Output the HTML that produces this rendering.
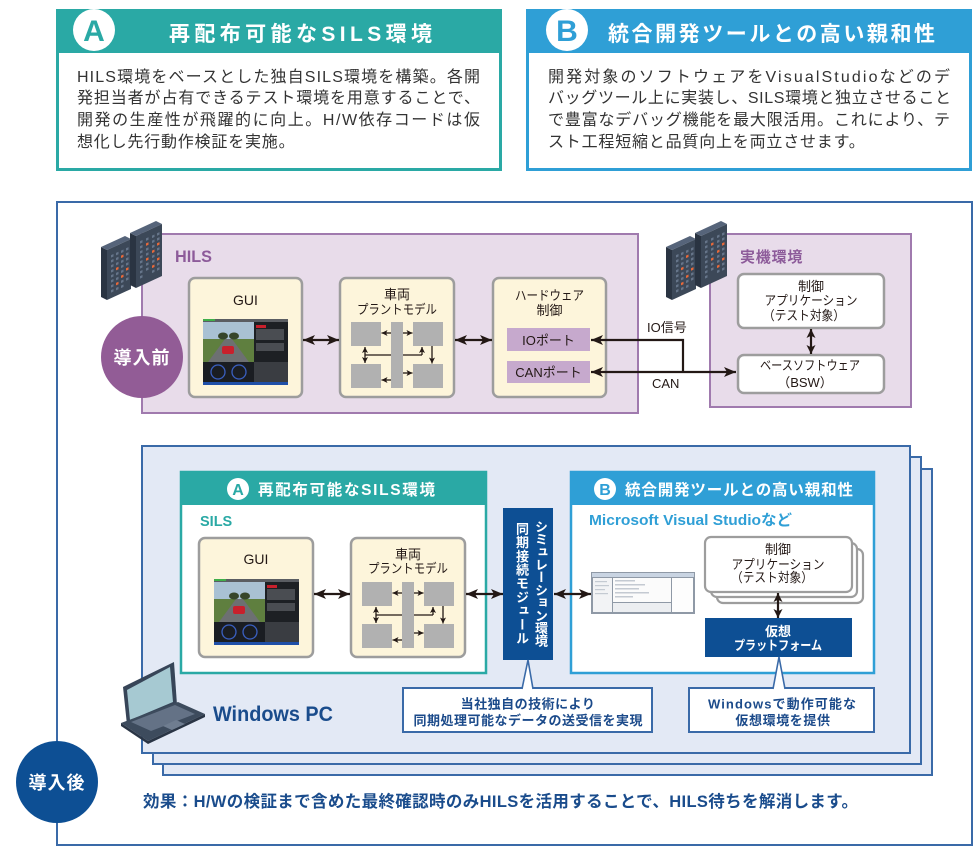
<!DOCTYPE html>
<html lang="ja"><head><meta charset="utf-8"><title>SILS</title>
<style>
html,body{margin:0;padding:0;background:#fff}
body{width:980px;height:853px;position:relative;overflow:hidden}
svg{position:absolute;left:0;top:0;display:block}
svg text{font-family:"Liberation Sans","Noto Sans CJK JP",sans-serif}
.vt{position:absolute;writing-mode:vertical-rl;color:#fff;font-weight:bold;font-size:13px;line-height:13px;width:13px;font-family:"Liberation Sans","Noto Sans CJK JP",sans-serif;white-space:nowrap}
</style></head><body>
<svg width="980" height="853" viewBox="0 0 980 853">
<defs>
<marker id="ah" markerUnits="userSpaceOnUse" markerWidth="12" markerHeight="10" viewBox="0 0 12 10" refX="12" refY="5" orient="auto-start-reverse"><path d="M0,0 L12,5 L0,10 L3,5 z" fill="#231815"/></marker>
<marker id="am" markerUnits="userSpaceOnUse" markerWidth="9" markerHeight="9" viewBox="0 0 9 9" refX="9" refY="4.5" orient="auto-start-reverse"><path d="M0,0 L9,4.5 L0,9 L2.2,4.5 z" fill="#231815"/></marker>
<marker id="as" markerUnits="userSpaceOnUse" markerWidth="6" markerHeight="6" viewBox="0 0 6 6" refX="6" refY="3" orient="auto-start-reverse"><path d="M0,0 L6,3 L0,6 L1.5,3 z" fill="#231815"/></marker>

<g id="gui">
<rect width="85" height="66" fill="#2a2d31"/>
<rect width="85" height="3" fill="#5a5d62"/>
<rect width="12" height="2" fill="#3fae49"/>
<rect x="0" y="3" width="51" height="40" fill="#5f7f3f"/>
<rect x="0" y="3" width="51" height="17" fill="#a9c1d3"/>
<polygon points="22,20 29,20 46,43 5,43" fill="#6d7072"/>
<ellipse cx="20" cy="17" rx="5" ry="3.5" fill="#36452a"/>
<ellipse cx="31" cy="17" rx="5" ry="3.5" fill="#36452a"/>
<rect x="19" y="27" width="12" height="8" rx="2" fill="#c8202c"/>
<rect x="51" y="3" width="34" height="40" fill="#1d2024"/>
<rect x="53" y="6" width="10" height="3" fill="#c8202c"/>
<rect x="53" y="10" width="28" height="11" fill="#4a4d52"/>
<rect x="53" y="24" width="28" height="8" fill="#4a4d52"/>
<rect x="0" y="43" width="51" height="20" fill="#1a1d22"/>
<circle cx="15" cy="53" r="7" fill="none" stroke="#3a5fc0" stroke-width="1.3"/>
<circle cx="36" cy="53" r="7" fill="none" stroke="#3a5fc0" stroke-width="1.3"/>
<rect x="51" y="43" width="34" height="20" fill="#3a3d42"/>
<rect x="0" y="63" width="85" height="3" fill="#1f4fa8"/>
</g>

<g id="plant">
<line x1="14" y1="33" x2="71" y2="33" stroke="#231815" stroke-width="1.3"/>
<path d="M71,33 V25" fill="none" stroke="#231815" stroke-width="1.3" marker-end="url(#as)"/>
<rect x="0" y="0" width="30" height="24" fill="#b1b1b1"/>
<rect x="62" y="0" width="30" height="24" fill="#b1b1b1"/>
<rect x="0" y="42" width="30" height="24" fill="#b1b1b1"/>
<rect x="62" y="42" width="30" height="24" fill="#b1b1b1"/>
<rect x="40" y="0" width="12" height="66" fill="#b1b1b1"/>
<g stroke="#231815" stroke-width="1.3" fill="none">
<line x1="40" y1="11" x2="30.5" y2="11" marker-end="url(#as)"/>
<line x1="52" y1="11" x2="61.5" y2="11" marker-end="url(#as)"/>
<line x1="14" y1="25" x2="14" y2="41" marker-start="url(#as)" marker-end="url(#as)"/>
<line x1="81" y1="24" x2="81" y2="41.5" marker-end="url(#as)"/>
<line x1="40" y1="58" x2="30.5" y2="58" marker-end="url(#as)"/>
<line x1="52" y1="51" x2="61.5" y2="51" marker-end="url(#as)"/>
</g>
</g>

<g id="srv">
<polygon points="101,247 107,250 107,300 101,297" fill="#2a3442"/>
<polygon points="101,247 125,236 131,239 107,250" fill="#56647a"/>
<g transform="matrix(1,-0.458,0,1,107,250)">
<rect width="24" height="50" fill="#3c4858"/>
<g fill="#66758a">
<rect x="4" y="7" width="2.5" height="2.5"/><rect x="9" y="7" width="2.5" height="2.5"/><rect x="14" y="7" width="2.5" height="2.5"/><rect x="19" y="7" width="2.5" height="2.5"/>
<rect x="4" y="12" width="2.5" height="2.5"/><rect x="9" y="12" width="2.5" height="2.5"/><rect x="19" y="12" width="2.5" height="2.5"/>
<rect x="4" y="17" width="2.5" height="2.5"/><rect x="9" y="17" width="2.5" height="2.5"/><rect x="14" y="17" width="2.5" height="2.5"/><rect x="19" y="17" width="2.5" height="2.5"/>
<rect x="4" y="22" width="2.5" height="2.5"/><rect x="14" y="22" width="2.5" height="2.5"/><rect x="19" y="22" width="2.5" height="2.5"/>
<rect x="4" y="27" width="2.5" height="2.5"/><rect x="9" y="27" width="2.5" height="2.5"/><rect x="14" y="27" width="2.5" height="2.5"/>
<rect x="4" y="32" width="2.5" height="2.5"/><rect x="9" y="32" width="2.5" height="2.5"/><rect x="19" y="32" width="2.5" height="2.5"/>
<rect x="4" y="37" width="2.5" height="2.5"/><rect x="14" y="37" width="2.5" height="2.5"/><rect x="19" y="37" width="2.5" height="2.5"/>
<rect x="4" y="42" width="2.5" height="2.5"/><rect x="9" y="42" width="2.5" height="2.5"/><rect x="14" y="42" width="2.5" height="2.5"/>
</g>
<g fill="#e8693a">
<rect x="9" y="22" width="2.5" height="2.5"/><rect x="14" y="12" width="2.5" height="2.5"/><rect x="19" y="27" width="2.5" height="2.5"/><rect x="9" y="37" width="2.5" height="2.5"/><rect x="14" y="32" width="2.5" height="2.5"/>
</g>
</g>
<polygon points="130,233 136,236 136,288 130,285" fill="#2a3442"/>
<polygon points="130,233 156,221 162,224 136,236" fill="#56647a"/>
<g transform="matrix(1,-0.462,0,1,136,236)">
<rect width="26" height="52" fill="#3c4858"/>
<g fill="#66758a">
<rect x="4" y="7" width="2.5" height="2.5"/><rect x="10" y="7" width="2.5" height="2.5"/><rect x="16" y="7" width="2.5" height="2.5"/><rect x="21" y="7" width="2.5" height="2.5"/>
<rect x="4" y="12" width="2.5" height="2.5"/><rect x="16" y="12" width="2.5" height="2.5"/><rect x="21" y="12" width="2.5" height="2.5"/>
<rect x="4" y="17" width="2.5" height="2.5"/><rect x="10" y="17" width="2.5" height="2.5"/><rect x="16" y="17" width="2.5" height="2.5"/>
<rect x="4" y="22" width="2.5" height="2.5"/><rect x="10" y="22" width="2.5" height="2.5"/><rect x="21" y="22" width="2.5" height="2.5"/>
<rect x="4" y="27" width="2.5" height="2.5"/><rect x="16" y="27" width="2.5" height="2.5"/><rect x="21" y="27" width="2.5" height="2.5"/>
<rect x="4" y="32" width="2.5" height="2.5"/><rect x="10" y="32" width="2.5" height="2.5"/><rect x="16" y="32" width="2.5" height="2.5"/>
<rect x="4" y="37" width="2.5" height="2.5"/><rect x="10" y="37" width="2.5" height="2.5"/><rect x="21" y="37" width="2.5" height="2.5"/>
<rect x="4" y="42" width="2.5" height="2.5"/><rect x="16" y="42" width="2.5" height="2.5"/><rect x="21" y="42" width="2.5" height="2.5"/>
</g>
<g fill="#e8693a">
<rect x="10" y="12" width="2.5" height="2.5"/><rect x="21" y="17" width="2.5" height="2.5"/><rect x="16" y="22" width="2.5" height="2.5"/><rect x="10" y="27" width="2.5" height="2.5"/><rect x="21" y="32" width="2.5" height="2.5"/><rect x="16" y="37" width="2.5" height="2.5"/>
</g>
</g>
</g>
</defs>

<!-- ===== Top box A ===== -->
<rect x="56" y="9" width="446" height="162" fill="#2aa9a5"/>
<rect x="59" y="53" width="440" height="115" fill="#fff"/>
<circle cx="94" cy="30" r="21" fill="#fff"/>
<text x="94" y="41" text-anchor="middle" font-size="30" font-weight="bold" fill="#2aa9a5">A</text>
<text x="169" y="41" font-size="21" font-weight="bold" fill="#fff" textLength="263" lengthAdjust="spacing">再配布可能なSILS環境</text>
<g font-size="16" fill="#333">
<text x="77" y="82" textLength="403" lengthAdjust="spacing">HILS環境をベースとした独自SILS環境を構築。各開</text>
<text x="77" y="103" textLength="403" lengthAdjust="spacing">発担当者が占有できるテスト環境を用意することで、</text>
<text x="77" y="125" textLength="403" lengthAdjust="spacing">開発の生産性が飛躍的に向上。H/W依存コードは仮</text>
<text x="77" y="147" letter-spacing="0.8">想化し先行動作検証を実施。</text>
</g>

<!-- ===== Top box B ===== -->
<rect x="526" y="9" width="446" height="162" fill="#2f9fd6"/>
<rect x="529" y="53" width="440" height="115" fill="#fff"/>
<circle cx="567" cy="30" r="21" fill="#fff"/>
<text x="567" y="41" text-anchor="middle" font-size="30" font-weight="bold" fill="#2f9fd6">B</text>
<text x="608" y="41" font-size="21" font-weight="bold" fill="#fff" textLength="327" lengthAdjust="spacing">統合開発ツールとの高い親和性</text>
<g font-size="16" fill="#333">
<text x="548" y="82" textLength="402" lengthAdjust="spacing">開発対象のソフトウェアをVisualStudioなどのデ</text>
<text x="548" y="103" textLength="403" lengthAdjust="spacing">バッグツール上に実装し、SILS環境と独立させること</text>
<text x="548" y="125" textLength="402" lengthAdjust="spacing">で豊富なデバッグ機能を最大限活用。これにより、テ</text>
<text x="548" y="147" letter-spacing="0.8">スト工程短縮と品質向上を両立させます。</text>
</g>

<!-- ===== Main frame ===== -->
<rect x="57" y="202" width="915" height="643" fill="none" stroke="#3a6aa8" stroke-width="2"/>

<!-- HILS -->
<rect x="142" y="234" width="496" height="179" fill="#e8dcea" stroke="#a07aae" stroke-width="2"/>
<text x="175" y="262" font-size="17" font-weight="bold" fill="#8d5b9a" textLength="37" lengthAdjust="spacingAndGlyphs">HILS</text>
<rect x="710" y="234" width="201" height="173" fill="#e8dcea" stroke="#a07aae" stroke-width="2"/>
<text x="740" y="262" font-size="15" font-weight="bold" fill="#8d5b9a" letter-spacing="0.8">実機環境</text>

<use href="#srv"/>
<use href="#srv" transform="translate(565,0)"/>

<circle cx="142" cy="357" r="41" fill="#925c96"/>
<text x="142" y="364" text-anchor="middle" font-size="18" font-weight="bold" fill="#fff" letter-spacing="1">導入前</text>

<!-- Upper inner boxes -->
<g fill="#fdf5db" stroke="#9d9d9d" stroke-width="2.5">
<rect x="189" y="278" width="113" height="119" rx="6"/>
<rect x="340" y="278" width="114" height="119" rx="6"/>
<rect x="493" y="278" width="113" height="119" rx="6"/>
</g>
<g font-size="13" fill="#231815" text-anchor="middle">
<text x="245.5" y="305" font-size="14">GUI</text>
<text x="397" y="299">車両</text>
<text x="397" y="314" textLength="80" lengthAdjust="spacingAndGlyphs">プラントモデル</text>
<text x="549.5" y="300" textLength="69" lengthAdjust="spacingAndGlyphs">ハードウェア</text>
<text x="549.5" y="315">制御</text>
</g>
<use href="#gui" transform="translate(203,319)"/>
<use href="#plant" transform="translate(351,322)"/>
<rect x="507" y="328" width="83" height="23" fill="#c6a9cd"/>
<rect x="507" y="361" width="83" height="22" fill="#c6a9cd"/>
<g font-size="13" fill="#231815" text-anchor="middle">
<text x="548.5" y="345">IOポート</text>
<text x="548.5" y="377">CANポート</text>
</g>
<text x="647" y="332" font-size="13" fill="#231815">IO信号</text>
<text x="652" y="388" font-size="13" fill="#231815">CAN</text>

<g fill="#fff" stroke="#9d9d9d" stroke-width="2.5">
<rect x="738" y="274" width="146" height="54" rx="6"/>
<rect x="738" y="355" width="146" height="38" rx="6"/>
</g>
<g font-size="13" fill="#231815" text-anchor="middle">
<text x="811" y="291">制御</text>
<text x="811" y="305" textLength="93" lengthAdjust="spacingAndGlyphs">アプリケーション</text>
<text x="804" y="320" textLength="82" lengthAdjust="spacingAndGlyphs">（テスト対象）</text>
<text x="810" y="370" textLength="100" lengthAdjust="spacingAndGlyphs">ベースソフトウェア</text>
<text x="805" y="387">（BSW）</text>
</g>

<g stroke="#231815" stroke-width="2.2" fill="none">
<line x1="303" y1="340" x2="339" y2="340" marker-start="url(#ah)" marker-end="url(#ah)"/>
<line x1="455" y1="340" x2="492" y2="340" marker-start="url(#ah)" marker-end="url(#ah)"/>
<path d="M683,372 V340 H591" marker-end="url(#ah)"/>
<line x1="591" y1="372" x2="736" y2="372" marker-start="url(#ah)" marker-end="url(#ah)"/>
<line x1="811" y1="329" x2="811" y2="354" marker-start="url(#am)" marker-end="url(#am)"/>
</g>

<!-- ===== Lower stacked frames ===== -->
<g fill="#e3e9f5" stroke="#3a6aa8" stroke-width="2">
<rect x="163" y="469" width="769" height="306"/>
<rect x="153" y="457" width="768" height="307"/>
<rect x="142" y="446" width="768" height="307"/>
</g>

<!-- A box lower -->
<rect x="181" y="472" width="305" height="201" fill="#fff" stroke="#2aa9a5" stroke-width="2.5"/>
<rect x="180" y="471" width="307" height="34" fill="#2aa9a5"/>
<circle cx="238" cy="489" r="11" fill="#fff"/>
<text x="238" y="495" text-anchor="middle" font-size="16" font-weight="bold" fill="#2aa9a5">A</text>
<text x="258" y="495" font-size="15.5" font-weight="bold" fill="#fff" textLength="177" lengthAdjust="spacing">再配布可能なSILS環境</text>
<text x="200" y="526" font-size="14.5" font-weight="bold" fill="#2aa9a5">SILS</text>

<g fill="#fdf5db" stroke="#9d9d9d" stroke-width="2.5">
<rect x="199" y="538" width="114" height="119" rx="6"/>
<rect x="351" y="538" width="114" height="119" rx="6"/>
</g>
<g font-size="13" fill="#231815" text-anchor="middle">
<text x="256" y="564" font-size="14">GUI</text>
<text x="408" y="559">車両</text>
<text x="408" y="573" textLength="80" lengthAdjust="spacingAndGlyphs">プラントモデル</text>
</g>
<use href="#gui" transform="translate(214,579)"/>
<use href="#plant" transform="translate(362,582)"/>

<!-- B box lower -->
<rect x="571" y="472" width="303" height="201" fill="#fff" stroke="#2f9fd6" stroke-width="2.5"/>
<rect x="570" y="471" width="305" height="34" fill="#2f9fd6"/>
<circle cx="605" cy="489" r="11" fill="#fff"/>
<text x="605" y="495" text-anchor="middle" font-size="16" font-weight="bold" fill="#2f9fd6">B</text>
<text x="625" y="495" font-size="15.5" font-weight="bold" fill="#fff" textLength="228" lengthAdjust="spacing">統合開発ツールとの高い親和性</text>
<text x="589" y="525" font-size="15" font-weight="bold" fill="#2f9fd6" textLength="203" lengthAdjust="spacingAndGlyphs">Microsoft Visual Studioなど</text>

<!-- VS screenshot -->
<g transform="translate(591,572)">
<rect width="104" height="42" fill="#8f99a6"/>
<rect x="1" y="1" width="102" height="4" fill="#c9d4e2"/>
<rect x="2" y="6" width="19" height="34" fill="#f2f3f5"/>
<rect x="22" y="6" width="58" height="24" fill="#fbfbfb"/>
<rect x="81" y="6" width="21" height="34" fill="#fdfdfd"/>
<rect x="22" y="31" width="58" height="9" fill="#eceef1"/>
<g fill="#c4cad2">
<rect x="24" y="8" width="20" height="1.5"/><rect x="24" y="12" width="30" height="1.5"/><rect x="24" y="16" width="24" height="1.5"/><rect x="24" y="20" width="34" height="1.5"/><rect x="24" y="24" width="18" height="1.5"/>
<rect x="4" y="9" width="12" height="1.2"/><rect x="4" y="13" width="14" height="1.2"/><rect x="4" y="17" width="10" height="1.2"/><rect x="4" y="21" width="13" height="1.2"/>
</g>
</g>

<!-- stacked app boxes -->
<g fill="#fff" stroke="#9d9d9d" stroke-width="2.2">
<rect x="717" y="549" width="146" height="54" rx="6"/>
<rect x="711" y="543" width="146" height="54" rx="6"/>
<rect x="705" y="537" width="147" height="55" rx="6"/>
</g>
<g font-size="13" fill="#231815" text-anchor="middle">
<text x="778" y="554">制御</text>
<text x="778" y="569" textLength="93" lengthAdjust="spacingAndGlyphs">アプリケーション</text>
<text x="772" y="582" textLength="82" lengthAdjust="spacingAndGlyphs">（テスト対象）</text>
</g>
<rect x="705" y="618" width="147" height="39" fill="#0d4f94"/>
<g font-size="13" font-weight="bold" fill="#fff" text-anchor="middle">
<text x="778" y="636">仮想</text>
<text x="778" y="650" textLength="88" lengthAdjust="spacingAndGlyphs">プラットフォーム</text>
</g>

<!-- sim module -->
<rect x="503" y="508" width="50" height="152" fill="#0d4f94"/>

<g stroke="#231815" stroke-width="2.2" fill="none">
<line x1="314" y1="594" x2="350" y2="594" marker-start="url(#ah)" marker-end="url(#ah)"/>
<line x1="466" y1="594" x2="503" y2="594" marker-start="url(#ah)" marker-end="url(#ah)"/>
<line x1="554" y1="594" x2="591" y2="594" marker-start="url(#ah)" marker-end="url(#ah)"/>
<line x1="778" y1="593" x2="778" y2="618" marker-start="url(#am)" marker-end="url(#am)"/>
</g>

<!-- callouts -->
<rect x="403" y="688" width="249" height="44" fill="#fff" stroke="#3a6aa8" stroke-width="2"/>
<polygon points="522,689 528,660 533,689" fill="#fff"/>
<polyline points="522,689 528,660 533,689" fill="none" stroke="#3a6aa8" stroke-width="1.6"/>
<rect x="689" y="688" width="185" height="44" fill="#fff" stroke="#3a6aa8" stroke-width="2"/>
<polygon points="773,689 779,657 785,689" fill="#fff"/>
<polyline points="773,689 779,657 785,689" fill="none" stroke="#3a6aa8" stroke-width="1.6"/>
<g font-size="13" font-weight="bold" fill="#1b4a8a" text-anchor="middle">
<text x="528" y="708.5" letter-spacing="0.5">当社独自の技術により</text>
<text x="528" y="725" textLength="229" lengthAdjust="spacing">同期処理可能なデータの送受信を実現</text>
<text x="782" y="708.5" textLength="148" lengthAdjust="spacing">Windowsで動作可能な</text>
<text x="783" y="725" letter-spacing="0.6">仮想環境を提供</text>
</g>

<!-- laptop -->
<polygon points="123,687 174,662 177,705 127,725" fill="#374558"/>
<polygon points="127,690 170,667 173,702 130,720" fill="#a6c9d2"/>
<polygon points="121,723 178,702 205,714 148,741" fill="#3d4b5d"/>
<polygon points="121,723 148,741 205,714 205,717 148,744 121,726" fill="#2a3545"/>
<polygon points="131,722 175,705 195,714 151,731" fill="#647286"/>
<polygon points="163,726 176,720 185,724 172,730" fill="#6f7d90"/>
<text x="213" y="721" font-size="21" font-weight="bold" fill="#1a4c8c" textLength="120" lengthAdjust="spacingAndGlyphs">Windows PC</text>

<!-- after -->
<circle cx="57" cy="782" r="41" fill="#0d4f94"/>
<text x="57" y="789" text-anchor="middle" font-size="18" font-weight="bold" fill="#fff" letter-spacing="1">導入後</text>
<text x="143" y="807" font-size="16.5" font-weight="bold" fill="#1a4c8c" textLength="715" lengthAdjust="spacing">効果：H/Wの検証まで含めた最終確認時のみHILSを活用することで、HILS待ちを解消します。</text>
</svg>
<div class="vt" style="left:534px;top:520px;letter-spacing:-0.3px">シミュレーション環境</div>
<div class="vt" style="left:515px;top:522px;letter-spacing:0.7px">同期接続モジュール</div>
</body></html>
